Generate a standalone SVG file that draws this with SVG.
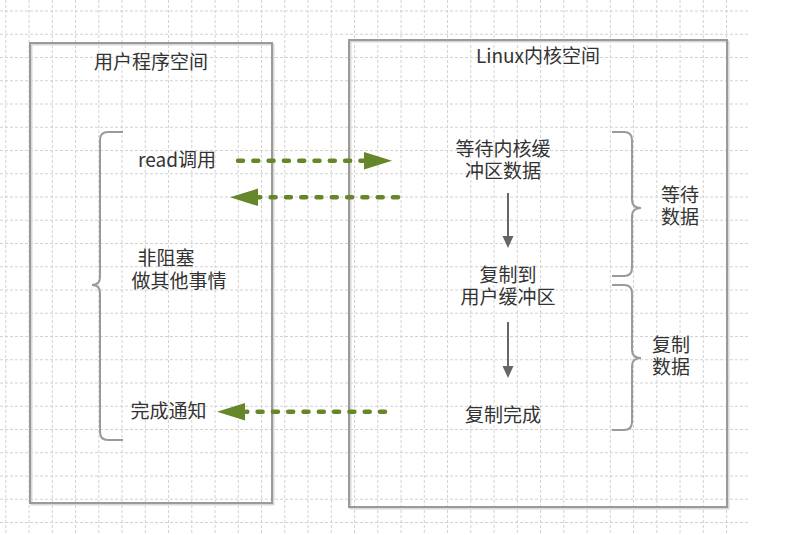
<svg xmlns="http://www.w3.org/2000/svg" width="798" height="535" viewBox="0 0 798 535">
<style>
.grid{stroke:#d2d2d2;stroke-width:1;stroke-dasharray:3 2;fill:none}
.box{fill:none;stroke:#9a9a9a;stroke-width:2}
.shadow{fill:none;stroke:#d8d8d8;stroke-width:2}
.brace{fill:none;stroke:#9a9a9a;stroke-width:2}
.t{font-family:"Noto Sans CJK SC","Noto Sans",sans-serif;font-size:19px;fill:#333;text-anchor:middle}
.green{stroke:#658629;stroke-width:4.5;stroke-linecap:round;stroke-dasharray:5 10.3;fill:none}
.gray{stroke:#666;stroke-width:2;fill:none}
</style>
<rect width="798" height="535" fill="#fff"/>
<path class="grid" d="M5.8,0V535M29.05,0V535M52.3,0V535M75.55,0V535M98.8,0V535M122.05,0V535M145.3,0V535M168.55,0V535M191.8,0V535M215.05,0V535M238.3,0V535M261.55,0V535M284.8,0V535M308.05,0V535M331.3,0V535M354.55,0V535M377.8,0V535M401.05,0V535M424.3,0V535M447.55,0V535M470.8,0V535M494.05,0V535M517.3,0V535M540.55,0V535M563.8,0V535M587.05,0V535M610.3,0V535M633.55,0V535M656.8,0V535M680.05,0V535M703.3,0V535M726.55,0V535"/>
<path class="grid" d="M0,11H749M0,34.25H749M0,57.5H749M0,80.75H749M0,104H749M0,127.25H749M0,150.5H749M0,173.75H749M0,197H749M0,220.25H749M0,243.5H749M0,266.75H749M0,290H749M0,313.25H749M0,336.5H749M0,359.75H749M0,383H749M0,406.25H749M0,429.5H749M0,452.75H749M0,476H749M0,499.25H749M0,522.5H749"/>

<g id="user-space">
<rect class="shadow" x="31.5" y="44.5" width="242" height="460"/>
<rect class="box" x="30" y="43" width="242" height="460"/>
<text class="t" x="151" y="68.5">用户程序空间</text>
</g>
<g id="kernel-space">
<rect class="shadow" x="350.5" y="41.5" width="378" height="467"/>
<rect class="box" x="349" y="40" width="378" height="467"/>
<text class="t" x="538" y="63">Linux内核空间</text>
</g>

<g id="read-call"><text class="t" x="177" y="167">read调用</text></g>
<g id="nonblocking"><text class="t" x="166" y="265">非阻塞</text><text class="t" x="179" y="288">做其他事情</text></g>
<g id="notify"><text class="t" x="168.5" y="418">完成通知</text></g>

<g id="wait-kernel"><text class="t" x="503" y="155.5">等待内核缓</text><text class="t" x="503" y="178">冲区数据</text></g>
<g id="copy-to-user"><text class="t" x="508" y="281.5">复制到</text><text class="t" x="508" y="303.5">用户缓冲区</text></g>
<g id="copy-done"><text class="t" x="503" y="422">复制完成</text></g>

<g id="wait-data">
<path class="brace" d="M612,132 L624,132 Q632,132 632,140 L632,200 Q632,208 641,208 Q632,208 632,216 L632,268 Q632,276 624,276 L612,276"/>
<text class="t" x="680" y="201.5">等待</text><text class="t" x="680" y="224">数据</text>
</g>
<g id="copy-data">
<path class="brace" d="M612,285 L624,285 Q632,285 632,293 L632,350 Q632,358 641,358 Q632,358 632,366 L632,422 Q632,430 624,430 L612,430"/>
<text class="t" x="671" y="351.5">复制</text><text class="t" x="671" y="373.5">数据</text>
</g>
<g id="user-brace">
<path class="brace" d="M123,132 L108,132 Q100,132 100,140 L100,277 Q100,285 92,285 Q100,285 100,293 L100,432 Q100,440 108,440 L123,440"/>
</g>

<g id="connectors">
<path class="green" d="M238,160.7 H368"/>
<path d="M364,152 L392,160.7 L364,169.5 Z" fill="#658629"/>
<path class="green" d="M398,197.3 H258"/>
<path d="M258,188.5 L230,197.3 L258,206 Z" fill="#658629"/>
<path class="green" d="M385,411.7 H246"/>
<path d="M245,403 L217,411.7 L245,420.5 Z" fill="#658629"/>
<path class="gray" d="M508,193 V238"/>
<path d="M502.5,236 L508,248 L513.5,236 Z" fill="#666"/>
<path class="gray" d="M508,322 V368"/>
<path d="M502.5,366 L508,378 L513.5,366 Z" fill="#666"/>
</g>
</svg>
